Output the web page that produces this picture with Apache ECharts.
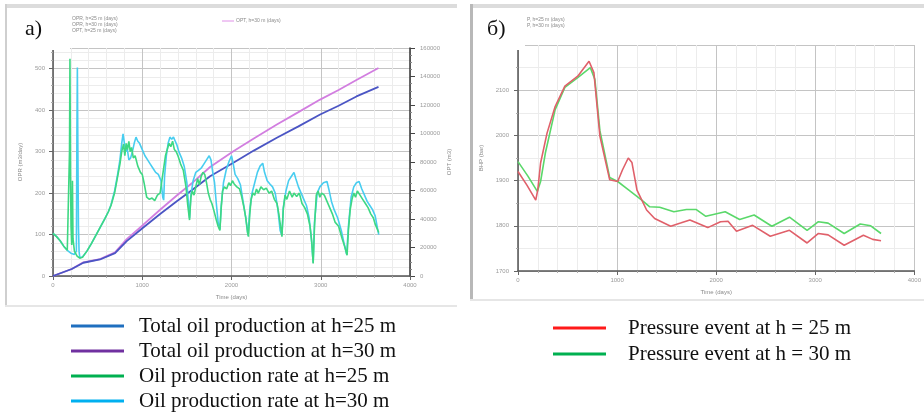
<!DOCTYPE html>
<html><head><meta charset="utf-8">
<script src="https://cdn.jsdelivr.net/npm/echarts@6/dist/echarts.min.js"></script>
<style>html,body{margin:0;padding:0;background:#fff}#c{width:924px;height:415px}</style>
</head><body><div id="c"></div>
<script>
// ---- Panel a: oil production rate (left axis) ----
const rateDays25 = [0,40,80,120,160,175,185,190,196,202,210,218,224,240,270,300,330,380,430,480,530,580,620,650,690,720,750,770,790,805,820,835,850,865,880,900,920,950,980,1000,1020,1050,1080,1110,1140,1170,1200,1230,1260,1280,1300,1320,1340,1360,1380,1400,1430,1460,1490,1510,1530,1545,1560,1580,1600,1620,1640,1660,1680,1700,1720,1740,1760,1780,1800,1830,1850,1870,1885,1900,1920,1945,1970,1990,2010,2030,2060,2090,2110,2140,2160,2180,2190,2205,2220,2240,2260,2280,2300,2330,2360,2390,2420,2450,2480,2510,2530,2550,2565,2580,2600,2620,2650,2680,2700,2730,2760,2790,2820,2850,2880,2900,2915,2930,2950,2970,2990,3010,3040,3070,3100,3130,3160,3200,3240,3270,3295,3310,3330,3350,3370,3390,3410,3440,3470,3500,3530,3560,3590,3610,3630,3650];
const rate25 = [103,95,85,72,62,58,300,524,250,120,75,230,90,60,48,43,45,60,78,98,118,138,155,170,200,235,270,300,318,290,320,305,325,300,310,285,290,265,250,245,225,190,185,188,182,195,200,245,290,305,320,312,325,305,300,290,270,255,215,170,135,190,205,195,215,235,220,240,250,245,225,200,185,175,160,135,120,110,165,205,215,210,225,218,230,222,215,210,195,165,140,105,95,150,185,200,195,210,200,215,208,212,200,205,185,175,150,120,95,160,195,185,205,190,200,192,200,175,165,150,120,80,30,120,195,205,190,200,195,180,165,150,130,120,90,70,50,110,160,185,200,190,205,195,185,175,165,150,140,125,115,105];
const rateDays30 = [0,40,80,120,160,200,240,262,268,273,279,285,292,300,330,380,430,480,530,580,620,650,690,720,750,770,785,800,815,830,850,870,890,910,930,950,970,1000,1030,1060,1090,1120,1150,1180,1210,1230,1240,1250,1270,1290,1310,1330,1350,1370,1390,1410,1440,1470,1500,1530,1545,1570,1600,1630,1660,1690,1720,1750,1770,1790,1810,1830,1850,1870,1885,1910,1940,1970,2000,2020,2040,2070,2100,2130,2160,2185,2205,2230,2260,2290,2320,2350,2370,2400,2430,2460,2490,2520,2545,2565,2580,2610,2640,2670,2700,2720,2750,2780,2810,2840,2870,2895,2915,2930,2960,2990,3030,3070,3090,3120,3150,3190,3230,3260,3290,3310,3340,3370,3400,3430,3460,3490,3520,3550,3580,3610,3640,3650];
const rate30 = [103,95,85,72,62,55,52,60,350,503,300,120,60,45,46,60,78,98,118,138,155,172,205,240,280,320,343,320,300,310,280,285,300,320,335,325,320,305,290,280,270,260,250,245,230,190,183,240,290,320,335,330,335,325,315,300,285,265,225,140,195,230,250,255,260,270,280,290,280,250,225,175,130,112,170,225,255,275,290,270,245,235,220,180,140,98,160,200,225,250,265,272,250,230,222,215,200,160,110,98,165,205,230,240,250,235,215,200,185,170,140,90,32,130,200,215,225,228,210,180,160,140,110,80,52,120,190,215,225,228,210,195,180,170,160,145,110,100];
// ---- Panel a: total oil production (right axis) ----
const totalDays = [0,210,340,527,695,826,1012,1200,1387,1573,1760,2021,2250,2508,2750,2993,3200,3400,3647];
const total25 = [0,4900,9300,11600,16000,24500,34000,43500,52500,61000,70000,79500,88000,97000,105000,113300,119500,126000,132700];
const total30 = [0,4900,9600,11900,16600,25900,36000,46500,56500,66000,76500,87600,96500,106300,115000,123800,130500,137500,146000];
// ---- Panel b: pressure ----
const pressDays25 = [0,90,179,200,228,293,375,473,603,717,766,827,925,1006,1055,1113,1150,1201,1298,1379,1541,1640,1735,1915,2044,2120,2205,2368,2546,2740,2918,3032,3130,3292,3486,3580,3664];
const press25 = [1920,1890,1857,1880,1939,2005,2064,2109,2131,2164,2139,1998,1902,1898,1924,1950,1940,1879,1835,1816,1799,1806,1813,1796,1809,1810,1788,1801,1777,1790,1762,1783,1780,1757,1779,1770,1767];
const pressDays30 = [0,100,195,228,276,375,473,603,730,776,827,925,1006,1119,1249,1330,1430,1573,1700,1800,1896,2091,2237,2383,2562,2740,2918,3032,3130,3292,3454,3560,3664];
const press30 = [1942,1910,1876,1898,1961,2057,2106,2128,2150,2124,2010,1907,1898,1879,1857,1842,1841,1831,1836,1836,1821,1831,1814,1824,1799,1819,1790,1809,1806,1783,1804,1800,1783];
// ---- legend texts / colours ----
const legendA = ['Total oil production at h=25 m','Total oil production at h=30 m','Oil production rate at h=25 m','Oil production rate at h=30 m'];
const legendB = ['Pressure event at h = 25 m','Pressure event at h = 30 m'];
const legendAColors = ['#1f6fbf','#7030a0','#00b050','#00b0f0'];
const legendBColors = ['#ff1a1a','#00b050'];

const zip = (a,b) => a.map((t,i)=>[t,b[i]]);
const serif = '"Liberation Serif","Times New Roman",serif';
const plain = v => String(v);
const lab = {fontSize:6,color:'#9a9a9a',fontFamily:'Liberation Sans',formatter:plain};
const gridMajor = {show:true,lineStyle:{color:'#c4c4c4',width:1}};
const gridMinor = {show:true,lineStyle:{color:'#ececec',width:1}};

function xAx(gi){
  return {type:'value',gridIndex:gi,min:0,max:4000,interval:1000,
    axisLine:{show:true,onZero:false,lineStyle:{color:'#555',width:1.5}},
    axisTick:{show:true,length:4,lineStyle:{color:'#666'}},
    minorTick:{show:true,splitNumber:5,length:2,lineStyle:{color:'#aaa'}},
    splitLine:gridMajor, minorSplitLine:gridMinor,
    axisLabel:Object.assign({margin:6},lab),
    name:'Time (days)', nameLocation:'middle', nameGap:18,
    nameTextStyle:{fontSize:6,color:'#8a8a8a'}};
}

const chart = echarts.init(document.getElementById('c'));
chart.setOption({
  animation:false,
  backgroundColor:'#fff',
  grid:[
    {left:53,right:514,top:48,bottom:139},
    {left:518,right:-2,top:45,bottom:144}
  ],
  xAxis:[xAx(0),xAx(1)],
  yAxis:[
    {type:'value',gridIndex:0,min:0,max:550,interval:100,position:'left',
      axisLine:{show:true,lineStyle:{color:'#555',width:1.5}},
      axisTick:{show:true,length:4,lineStyle:{color:'#666'}},
      minorTick:{show:true,splitNumber:5,length:2,lineStyle:{color:'#aaa'}},
      splitLine:gridMajor,minorSplitLine:gridMinor,
      axisLabel:Object.assign({margin:8},lab),
      name:'OPR (m3/day)',nameLocation:'middle',nameGap:30,nameRotate:90,
      nameTextStyle:{fontSize:6,color:'#8a8a8a'}},
    {type:'value',gridIndex:0,min:0,max:160000,interval:20000,position:'right',
      axisLine:{show:true,lineStyle:{color:'#333',width:1.5}},
      axisTick:{show:true,length:5,lineStyle:{color:'#444'}},
      minorTick:{show:true,splitNumber:4,length:2,lineStyle:{color:'#888'}},
      splitLine:{show:false},
      axisLabel:Object.assign({margin:10},lab),
      name:'OPT (m3)',nameLocation:'middle',nameGap:36,nameRotate:90,
      nameTextStyle:{fontSize:6,color:'#8a8a8a'}},
    {type:'value',gridIndex:1,min:1700,max:2200,interval:100,
      axisLine:{show:true,lineStyle:{color:'#555',width:1.5}},
      axisTick:{show:true,length:4,lineStyle:{color:'#666'}},
      minorTick:{show:true,splitNumber:2,length:2,lineStyle:{color:'#aaa'}},
      splitLine:gridMajor,minorSplitLine:gridMinor,
      axisLabel:Object.assign({margin:9},lab),
      name:'BHP (bar)',nameLocation:'middle',nameGap:34,nameRotate:90,
      nameTextStyle:{fontSize:6,color:'#8a8a8a'}}
  ],
  legend:[
    {orient:'vertical',left:66,top:310,height:110,itemWidth:53,itemHeight:3,icon:'rect',itemGap:3,
      selectedMode:false,
      textStyle:{fontFamily:serif,fontSize:21,color:'#111',lineHeight:22,padding:[0,0,0,10]},
      data:legendA.map((n,i)=>({name:n,itemStyle:{color:legendAColors[i]}}))},
    {orient:'vertical',left:548,top:312,height:80,itemWidth:53,itemHeight:3,icon:'rect',itemGap:4,
      selectedMode:false,
      textStyle:{fontFamily:serif,fontSize:21,color:'#111',lineHeight:22,padding:[0,0,0,17]},
      data:legendB.map((n,i)=>({name:n,itemStyle:{color:legendBColors[i]}}))}
  ],
  series:[
    {name:legendA[1],type:'line',xAxisIndex:0,yAxisIndex:1,data:zip(totalDays,total30),showSymbol:false,
      lineStyle:{color:'#d27ee0',width:1.8},itemStyle:{color:'#d27ee0'}},
    {name:legendA[0],type:'line',xAxisIndex:0,yAxisIndex:1,data:zip(totalDays,total25),showSymbol:false,
      lineStyle:{color:'#4b55c4',width:1.8},itemStyle:{color:'#4b55c4'}},
    {name:legendA[3],type:'line',xAxisIndex:0,yAxisIndex:0,data:zip(rateDays30,rate30),showSymbol:false,
      lineStyle:{color:'#48cdf0',width:1.6},itemStyle:{color:'#48cdf0'}},
    {name:legendA[2],type:'line',xAxisIndex:0,yAxisIndex:0,data:zip(rateDays25,rate25),showSymbol:false,
      lineStyle:{color:'#3ed882',width:1.6},itemStyle:{color:'#3ed882'}},
    {name:legendB[1],type:'line',xAxisIndex:1,yAxisIndex:2,data:zip(pressDays30,press30),showSymbol:false,
      lineStyle:{color:'#5ad86a',width:1.6},itemStyle:{color:'#5ad86a'}},
    {name:legendB[0],type:'line',xAxisIndex:1,yAxisIndex:2,data:zip(pressDays25,press25),showSymbol:false,
      lineStyle:{color:'#e0606a',width:1.6},itemStyle:{color:'#e0606a'}}
  ],
  graphic:[
    {type:'rect',z:-10,silent:true,shape:{x:5,y:4,width:452,height:4},style:{fill:'#dcdcdc'}},
    {type:'rect',z:-10,silent:true,shape:{x:5,y:4,width:2,height:303},style:{fill:'#cfcfcf'}},
    {type:'rect',z:-10,silent:true,shape:{x:5,y:305,width:452,height:2},style:{fill:'#e6e6e6'}},
    {type:'rect',z:-10,silent:true,shape:{x:470,y:4,width:460,height:4},style:{fill:'#dcdcdc'}},
    {type:'rect',z:-10,silent:true,shape:{x:470,y:4,width:3,height:297},style:{fill:'#b8b8b8'}},
    {type:'rect',z:-10,silent:true,shape:{x:470,y:299,width:460,height:2},style:{fill:'#e6e6e6'}},
    {type:'text',z:50,left:72,top:16,style:{text:'OPR, h=25 m (days)\nOPR, h=30 m (days)\nOPT, h=25 m (days)',fontSize:5,lineHeight:6,fill:'#8a8a8a'}},
    {type:'line',z:50,shape:{x1:222,y1:21,x2:234,y2:21},style:{stroke:'#e090e8',lineWidth:1}},
    {type:'text',z:50,left:236,top:18,style:{text:'OPT, h=30 m (days)',fontSize:5,fill:'#8a8a8a'}},
    {type:'text',z:50,left:527,top:17,style:{text:'P, h=25 m (days)\nP, h=30 m (days)',fontSize:5,lineHeight:6,fill:'#8a8a8a'}},
    {type:'rect',z:100,shape:{x:18,y:10,width:52,height:40},style:{fill:'#fff'}},
    {type:'text',z:101,left:25,top:18,style:{text:'a)',font:'22px '+serif,fill:'#111'}},
    {type:'rect',z:100,shape:{x:473,y:9,width:52,height:41},style:{fill:'#fff'}},
    {type:'text',z:101,left:487,top:18,style:{text:'б)',font:'22px '+serif,fill:'#111'}}
  ]
});
</script></body></html>
